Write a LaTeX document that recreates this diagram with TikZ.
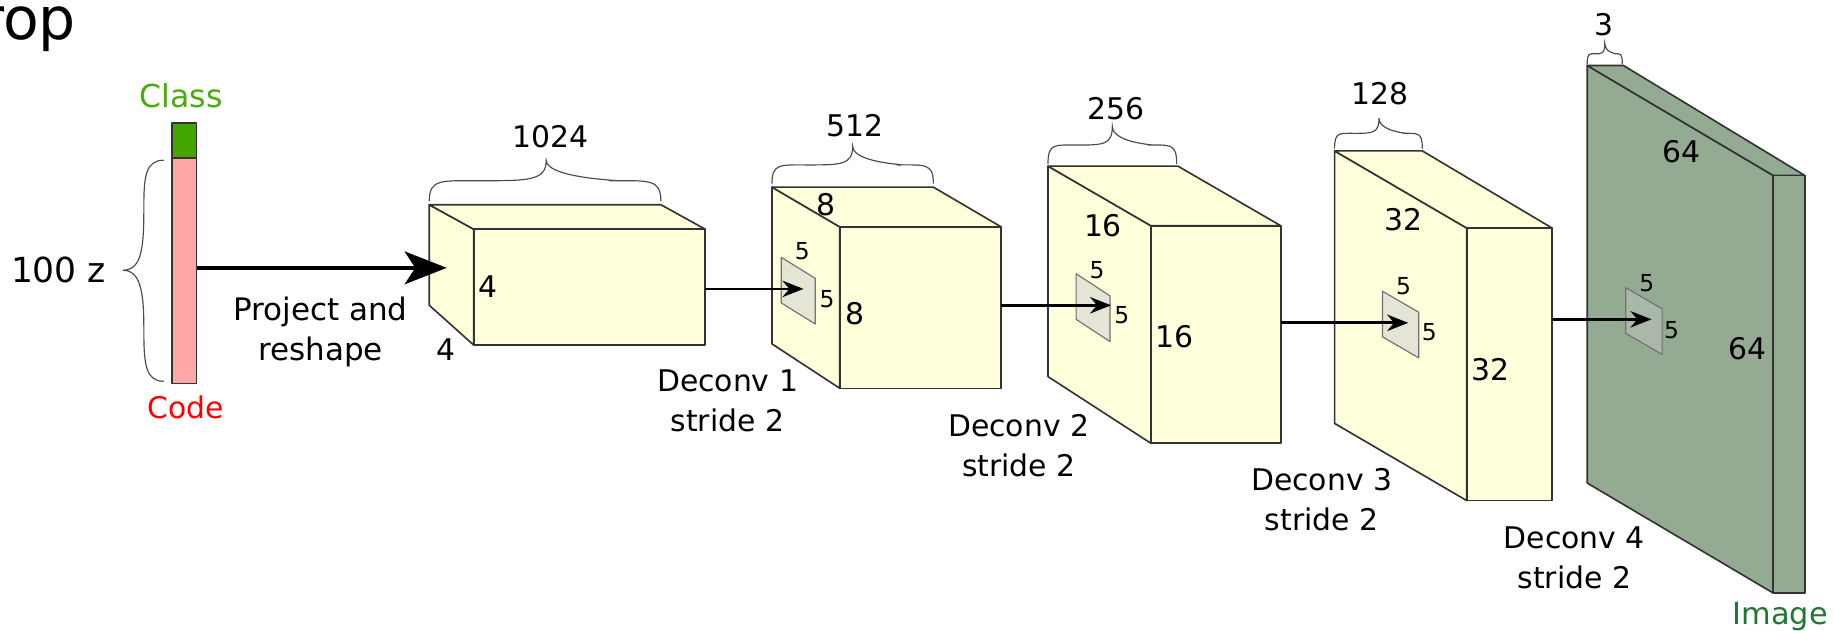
\documentclass[tikz,border=0pt]{standalone}
\usepackage{fontspec}
\setmainfont{DejaVu Sans}
\usetikzlibrary{arrows.meta}
\definecolor{boxy}{HTML}{FFFFDC}
\definecolor{boxg}{HTML}{94AA92}
\definecolor{kery}{HTML}{E5E5D5}
\definecolor{kerg}{HTML}{AAB8AA}
\definecolor{edgec}{HTML}{333333}
\tikzset{
  x=1pt,y=-1pt,
  face/.style={draw=edgec,line width=1.4pt,line join=round},
  kernel/.style={draw=black!55,line width=1pt,line join=round},
  lbl/.style={inner sep=0pt,font=\fontsize{25.5}{28}\selectfont,align=center},
  small/.style={inner sep=0pt,font=\fontsize{20}{24}\selectfont},
  bracec/.style={draw=black!70,line width=1pt},
  flow/.style={draw=black,line width=2.4pt,-{Stealth[length=18pt,width=14pt]}},
  bigflow/.style={draw=black,line width=3pt,-{Stealth[length=36pt,width=28pt,inset=9pt]}},
}
% #1 name, #2 fill, #3 left, #4 back right x, #5 front left x, #6 front right x, #7 back top y, #8 front top y, #9 front bottom y; back bottom via \bb
\newcommand{\cuboid}[9]{%
  \coordinate (#1bt) at (#3,#7);
  \coordinate (#1br) at (#4,#7);
  \coordinate (#1ft) at (#5,#8);
  \coordinate (#1fr) at (#6,#8);
  \coordinate (#1fb) at (#5,#9);
  \coordinate (#1rb) at (#6,#9);
  \coordinate (#1lb) at (#3,\bb);
  \path[face,fill=#2] (#1bt) -- (#1ft) -- (#1fb) -- (#1lb) -- cycle;
  \path[face,fill=#2] (#1bt) -- (#1br) -- (#1fr) -- (#1ft) -- cycle;
  \path[face,fill=#2] (#1ft) -- (#1fr) -- (#1rb) -- (#1fb) -- cycle;
}
% horizontal brace: #1 left x, #2 right x, #3 base y, #4 tip x, #5 tip y
\newcommand{\hbrace}[5]{%
  \pgfmathsetmacro{\ym}{#3+0.5*(#5-(#3))}
  \pgfmathsetmacro{\yc}{#3+0.55*(#5-(#3))}
  \draw[bracec] (#1,#3) .. controls (#1,\yc) and ({#1+0.1*(#4-#1)},\ym) .. ({#1+0.45*(#4-#1)},\ym)
     .. controls ({#1+0.85*(#4-#1)},\ym) and (#4,\ym) .. (#4,#5)
     .. controls (#4,\ym) and ({#2-0.15*(#2-#4)},\ym) .. ({#2-0.45*(#2-#4)},\ym)
     .. controls ({#2-0.1*(#2-#4)},\ym) and (#2,\yc) .. (#2,#3);
}
\begin{document}
\begin{tikzpicture}
\useasboundingbox (0,0) rectangle (1568,539);
\node[anchor=base west,inner sep=0pt,font=\fontsize{50}{56}\selectfont] (title) at (-17,34) {rop};

% latent vector
\path[face,fill={rgb,255:red,255;green,166;blue,166}] (147,135) rectangle (168,328);
\path[face,fill={rgb,255:red,68;green,165;blue,0}] (147,105) rectangle (168,135);
\coordinate (barout) at (168,229);
\node[lbl,font=\fontsize{27}{30}\selectfont,text={rgb,255:red,76;green,170;blue,10}] (class) at (155,82) {Class};
\node[lbl,text=red] (code) at (159,348) {Code};
\node[lbl,font=\fontsize{29.5}{32}\selectfont] (hundred) at (50,231) {100 z};
\draw[bracec] (140,137) .. controls (125,137) and (123,150) .. (123,175)
  .. controls (123,210) and (122,231) .. (105,231)
  .. controls (122,231) and (123,255) .. (123,285)
  .. controls (123,312) and (125,326) .. (140,326);
\node[lbl,font=\fontsize{26.5}{28}\selectfont] (proj) at (274,284) {Project and\\[6pt]reshape};

% box 1
\def\bb{261}
\cuboid{a}{boxy}{367}{565}{405}{603}{175}{196}{295}
\coordinate (ain) at (382,229);
\coordinate (aout) at (603,247);
\node[lbl] (a1) at (471,117) {1024};
\hbrace{367}{565}{172}{467}{137}
\node[lbl] (a2) at (417,245) {4};
\node[lbl] (a3) at (381,299) {4};
\draw[bigflow] (barout) -- (ain);

% box 2
\def\bb{294}
\cuboid{b}{boxy}{660}{798}{718}{856}{160}{194}{332}
\path[kernel,fill=kery] (668,220) -- (697,238) -- (697,277) -- (668,259) -- cycle;
\coordinate (bin) at (687,247);
\coordinate (bout) at (856,261);
\draw[flow] (aout) -- (bin);
\node[small] (b5a) at (686,215) {5};
\node[small] (b5b) at (707,256) {5};
\node[lbl] (b1) at (706,175) {8};
\node[lbl] (b2) at (731,268) {8};
\node[lbl] (b3) at (731,107) {512};
\hbrace{660}{798}{157}{729}{125}
\node[lbl] (bd) at (622,343) {Deconv 1\\[6pt]stride 2};

% box 3
\def\bb{322}
\cuboid{c}{boxy}{896}{1007}{984}{1095}{142}{193}{379}
\path[kernel,fill=kery] (920,234) -- (949,253) -- (949,292) -- (920,273) -- cycle;
\coordinate (cin) at (950,261);
\coordinate (cout) at (1095,276);
\draw[flow] (bout) -- (cin);
\node[small] (c5a) at (938,231) {5};
\node[small] (c5b) at (959,269) {5};
\node[lbl] (c1) at (943,193) {16};
\node[lbl] (c2) at (1004,288) {16};
\node[lbl] (c3) at (954,93) {256};
\hbrace{896}{1006}{140}{951}{108}
\node[lbl] (cd) at (871,381) {Deconv 2\\[6pt]stride 2};

% box 4
\def\bb{362}
\cuboid{d}{boxy}{1141}{1216}{1254}{1327}{129}{195}{428}
\path[kernel,fill=kery] (1182,249) -- (1213,267) -- (1213,306) -- (1182,288) -- cycle;
\coordinate (din) at (1204,276);
\coordinate (dout) at (1327,273);
\draw[flow] (cout) -- (din);
\node[small] (d5a) at (1200,245) {5};
\node[small] (d5b) at (1222,284) {5};
\node[lbl] (d1) at (1200,188) {32};
\node[lbl] (d2) at (1274,316) {32};
\node[lbl] (d3) at (1180,80) {128};
\hbrace{1141}{1216}{127}{1179}{101}
\node[lbl] (dd) at (1130,427) {Deconv 3\\[6pt]stride 2};

% box 5
\def\bb{413}
\cuboid{e}{boxg}{1357}{1388}{1516}{1543}{56}{150}{507}
\path[kernel,fill=kerg] (1390,246) -- (1421,264) -- (1421,303) -- (1390,285) -- cycle;
\coordinate (ein) at (1412,273);
\draw[flow] (dout) -- (ein);
\node[small] (e5a) at (1408,242) {5};
\node[small] (e5b) at (1429,282) {5};
\node[lbl] (e1) at (1438,130) {64};
\node[lbl] (e2) at (1494,298) {64};
\node[lbl] (e3) at (1371,21) {3};
\hbrace{1357}{1387}{55}{1372}{37}
\node[lbl] (ed) at (1346,477) {Deconv 4\\[6pt]stride 2};
\node[lbl,font=\fontsize{26}{28}\selectfont,text={rgb,255:red,30;green,120;blue,50}] (img) at (1522,527) {Image};
\end{tikzpicture}
\end{document}
